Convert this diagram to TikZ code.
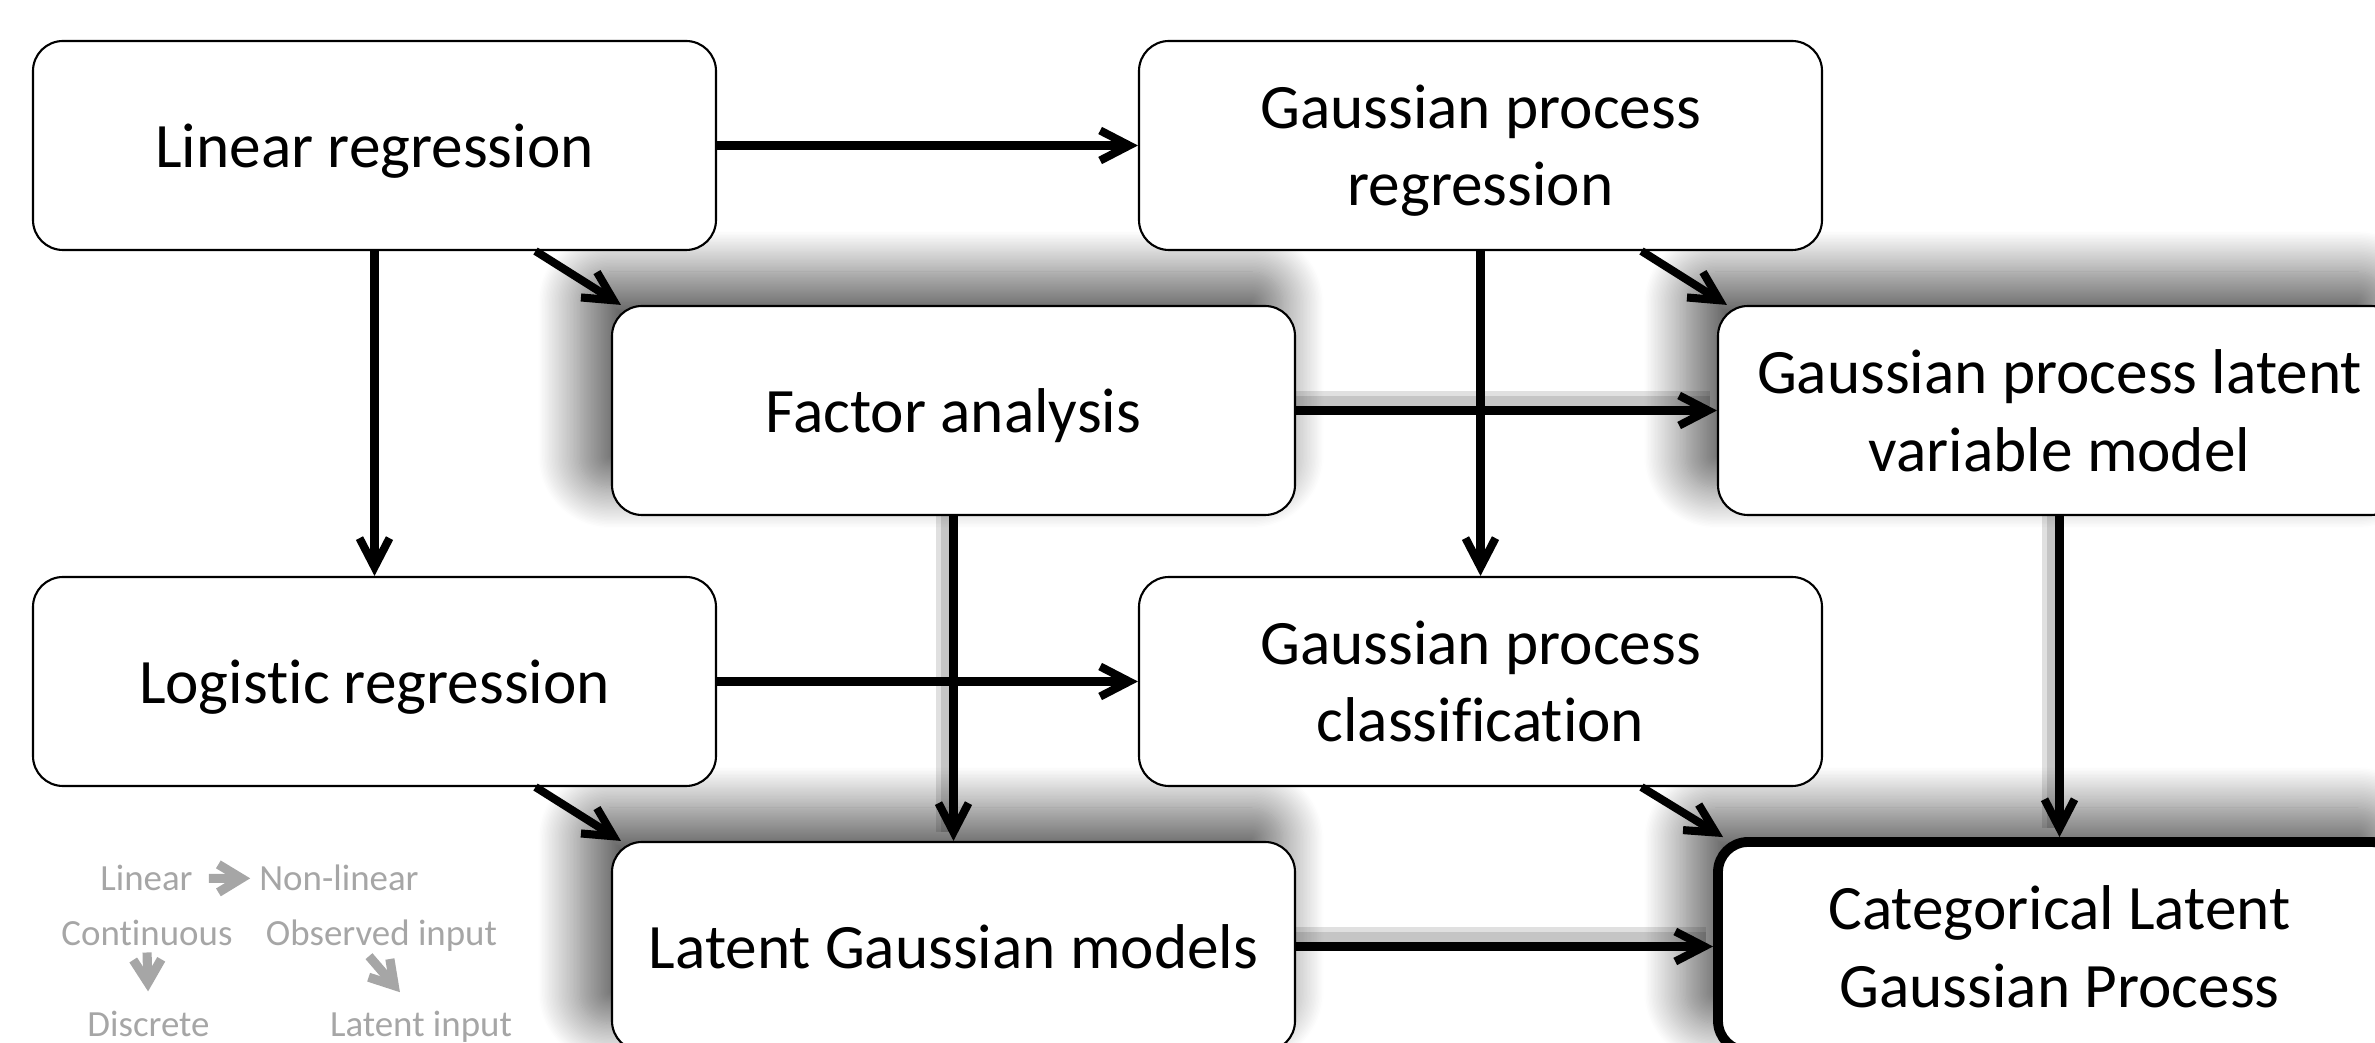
\documentclass[tikz,border=0pt]{standalone}
\usepackage{fontspec}
\setmainfont{Carlito}[Ligatures=NoCommon]
\usepackage{tikz}
\usetikzlibrary{arrows.meta, calc, shadows.blur, backgrounds}
\definecolor{leggray}{HTML}{A6A6A6}
\tikzset{
    box/.style={draw=black, fill=white, rounded corners=0.3cm, line width=0.6pt, align=center,
                minimum width=6.83cm, minimum height=2.09cm, inner sep=2pt, text depth=0pt,
                font=\fontsize{18}{22}\selectfont},
    latbox/.style={box, blur shadow={shadow xshift=-0.22cm, shadow yshift=0.3cm, shadow scale=1.03,
                shadow blur radius=0.4cm, shadow blur steps=30, shadow opacity=60}},
    goalbox/.style={latbox, line width=2.8pt},
    arr/.style={-{Straight Barb[length=2.9mm, width=3mm]}, line width=2.3pt},
    lshade/.style={line width=#1, black, opacity=0.12, transform canvas={xshift=-2pt, yshift=2.5pt}},
    legtxt/.style={text=leggray, font=\fontsize{10.5}{12}\selectfont, inner sep=1pt, anchor=base},
    legarr/.style={-{Straight Barb[length=2.3mm, width=2.8mm]}, line width=2.6pt, leggray}
}

\begin{document}
\begin{tikzpicture}
        \useasboundingbox (0,0) rectangle (23.75,-10.43);
        \clip (0,0) rectangle (23.75,-10.43);
        % latent input models, with shadow
        \node[latbox] (fa) at (9.535,-4.105) {Factor analysis};
        \node[latbox] (gplvm) at (20.595,-4.105) {Gaussian process latent\\variable model};
        \node[latbox] (lgm) at (9.535,-9.465) {Latent Gaussian models};
        \node[goalbox] (clgp) at (20.595,-9.465) {Categorical Latent\\Gaussian Process};
        % observed input models
        \node[box] (linr) at (3.745,-1.455) {Linear regression};
        \node[box] (gpr) at (14.805,-1.455) {Gaussian process\\regression};
        \node[box] (logr) at (3.745,-6.815) {Logistic regression};
        \node[box] (gpc) at (14.805,-6.815) {Gaussian process\\classification};
        % soft shadow under the latent links
        \begin{scope}[on background layer]
            \foreach \w in {3pt,6pt} {
                \draw[lshade=\w] (fa.east) -- (gplvm.west);
                \draw[lshade=\w] (fa.south) -- (lgm.north);
                \draw[lshade=\w] (gplvm.south) -- (clgp.north);
                \draw[lshade=\w] (lgm.east) -- (clgp.west);
            }
        \end{scope}
        % linear -> non-linear
        \draw[arr] (linr.east) -- (gpr.west);
        \draw[arr] (fa.east) -- (gplvm.west);
        \draw[arr] (logr.east) -- (gpc.west);
        \draw[arr] (lgm.east) -- (clgp.west);
        % continuous -> discrete
        \draw[arr] (linr.south) -- (logr.north);
        \draw[arr] (gpr.south) -- (gpc.north);
        \draw[arr] (fa.south) -- (lgm.north);
        \draw[arr] (gplvm.south) -- (clgp.north);
        % observed -> latent input
        \draw[arr] ($(linr.south)!0.47!(linr.south east)$) -- ([xshift=0.1cm]fa.north west);
        \draw[arr] ($(gpr.south)!0.47!(gpr.south east)$) -- ([xshift=0.1cm]gplvm.north west);
        \draw[arr] ($(logr.south)!0.47!(logr.south east)$) -- ([xshift=0.1cm]lgm.north west);
        \draw[arr] ($(gpc.south)!0.47!(gpc.south east)$) -- ([xshift=0.1cm]clgp.north west);
        % legend
        \node[legtxt] (lglin) at (1.465,-8.91) {Linear};
        \node[legtxt] (lgnon) at (3.39,-8.91) {Non-linear};
        \node[legtxt] (lgcont) at (1.47,-9.46) {Continuous};
        \node[legtxt] (lgobs) at (3.815,-9.46) {Observed input};
        \node[legtxt] (lgdisc) at (1.485,-10.37) {Discrete};
        \node[legtxt] (lglat) at (4.21,-10.37) {Latent input};
        \draw[legarr, shorten <=0.12cm, shorten >=0.05cm] (lglin.east) -- (lgnon.west);
        \draw[legarr, shorten <=0.02cm, shorten >=0.16cm] (lgcont.south) -- (lgdisc.north);
        \draw[legarr, shorten >=0.2cm] ([xshift=-0.125cm]lgobs.south) -- ([xshift=-0.08cm]lglat.north);
\end{tikzpicture}
\end{document}
